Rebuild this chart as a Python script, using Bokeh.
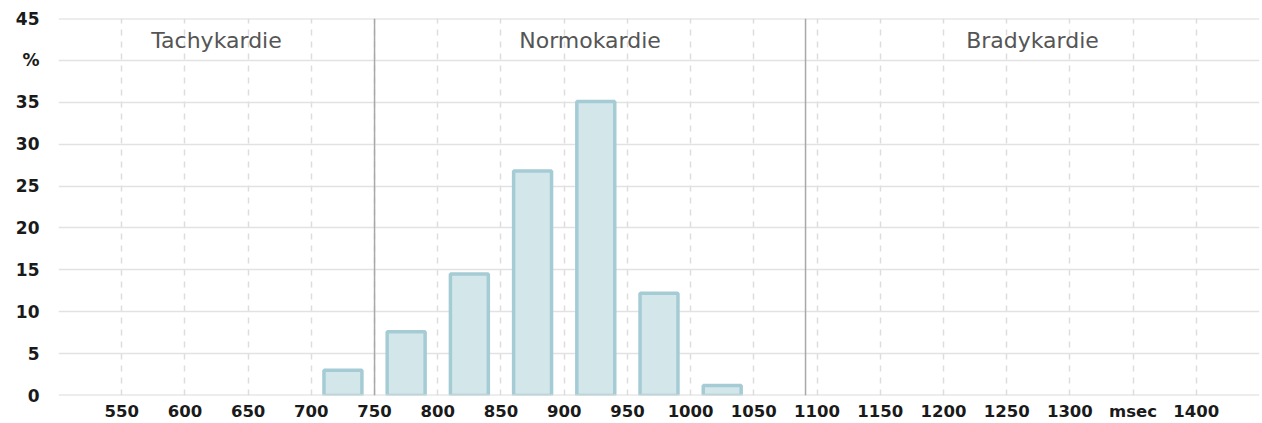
from bokeh.plotting import figure
from bokeh.models import FixedTicker, Span, Range1d, ColumnDataSource
from bokeh.core.properties import value
from bokeh.embed import file_html
from bokeh.resources import INLINE

# Data
bin_centers = [725, 775, 825, 875, 925, 975, 1025]
percent = [3.0, 7.6, 14.5, 26.8, 35.1, 12.2, 1.2]
region_names = ["Tachykardie", "Normokardie", "Bradykardie"]
region_bounds = [500, 750, 60000 / 55, 1450]
x_tick_values = [550, 600, 650, 700, 750, 800, 850, 900, 950, 1000, 1050, 1100,
                 1150, 1200, 1250, 1300, 1350, 1400]
x_tick_overrides = {1350: "msec"}
x_grid_values = list(range(500, 1451, 50))
y_tick_values = [0, 5, 10, 15, 20, 25, 30, 35, 40, 45]
y_tick_overrides = {40: "%"}

p = figure(width=1262, height=423, output_backend="svg", toolbar_location=None,
           x_range=Range1d(500, 1450), y_range=Range1d(0, 45),
           min_border_left=58, min_border_right=3, min_border_top=18, min_border_bottom=26)
p.outline_line_color = None
p.background_fill_color = "white"

# Axes
p.xaxis.ticker = FixedTicker(ticks=x_tick_values)
p.xaxis.major_label_overrides = x_tick_overrides
p.yaxis.ticker = FixedTicker(ticks=y_tick_values)
p.yaxis.major_label_overrides = y_tick_overrides
for ax in (p.xaxis, p.yaxis):
    ax.axis_line_color = None
    ax.major_tick_line_color = None
    ax.minor_tick_line_color = None
    ax.major_tick_out = 0
    ax.major_tick_in = 0
    ax.major_label_text_font = "DejaVu Sans"
    ax.major_label_text_font_style = "bold"
    ax.major_label_text_font_size = "16.5px"
    ax.major_label_text_color = "#1a1a1a"
p.xaxis.major_label_standoff = 6
p.yaxis.major_label_standoff = 19
p.yaxis.major_label_text_font_size = "17px"

# Grids
p.xgrid.ticker = FixedTicker(ticks=x_grid_values)
p.xgrid.grid_line_color = "#dddddd"
p.xgrid.grid_line_dash = "6 6"
p.xgrid.grid_line_width = 1.5
p.ygrid.ticker = FixedTicker(ticks=y_tick_values)
p.ygrid.grid_line_color = "#e2e2e2"
p.ygrid.grid_line_width = 1.5

p.add_layout(Span(location=45, dimension="width", line_color="#dcdcdc", line_width=2))
p.add_layout(Span(location=0, dimension="width", line_color="#dcdcdc", line_width=2))

# Region boundaries
for b in region_bounds[1:-1]:
    p.add_layout(Span(location=b, dimension="height", line_color="#a8a8a8", line_width=1.5))

# Bars
src = ColumnDataSource(dict(x=bin_centers, top=percent))
p.vbar(x="x", top="top", width=30, source=src, fill_color="#d3e6ea",
       line_color="#a5ccd5", line_width=3.5)

# Region labels
centers = [(region_bounds[i] + region_bounds[i + 1]) / 2 for i in range(len(region_names))]
p.text(x=centers, y=[42.4] * 3, text=region_names, text_align="center",
       text_baseline="middle", text_color="#555555", text_font=value("DejaVu Sans"),
       text_font_size="22px")

open("out.html", "w").write(file_html(p, INLINE))
